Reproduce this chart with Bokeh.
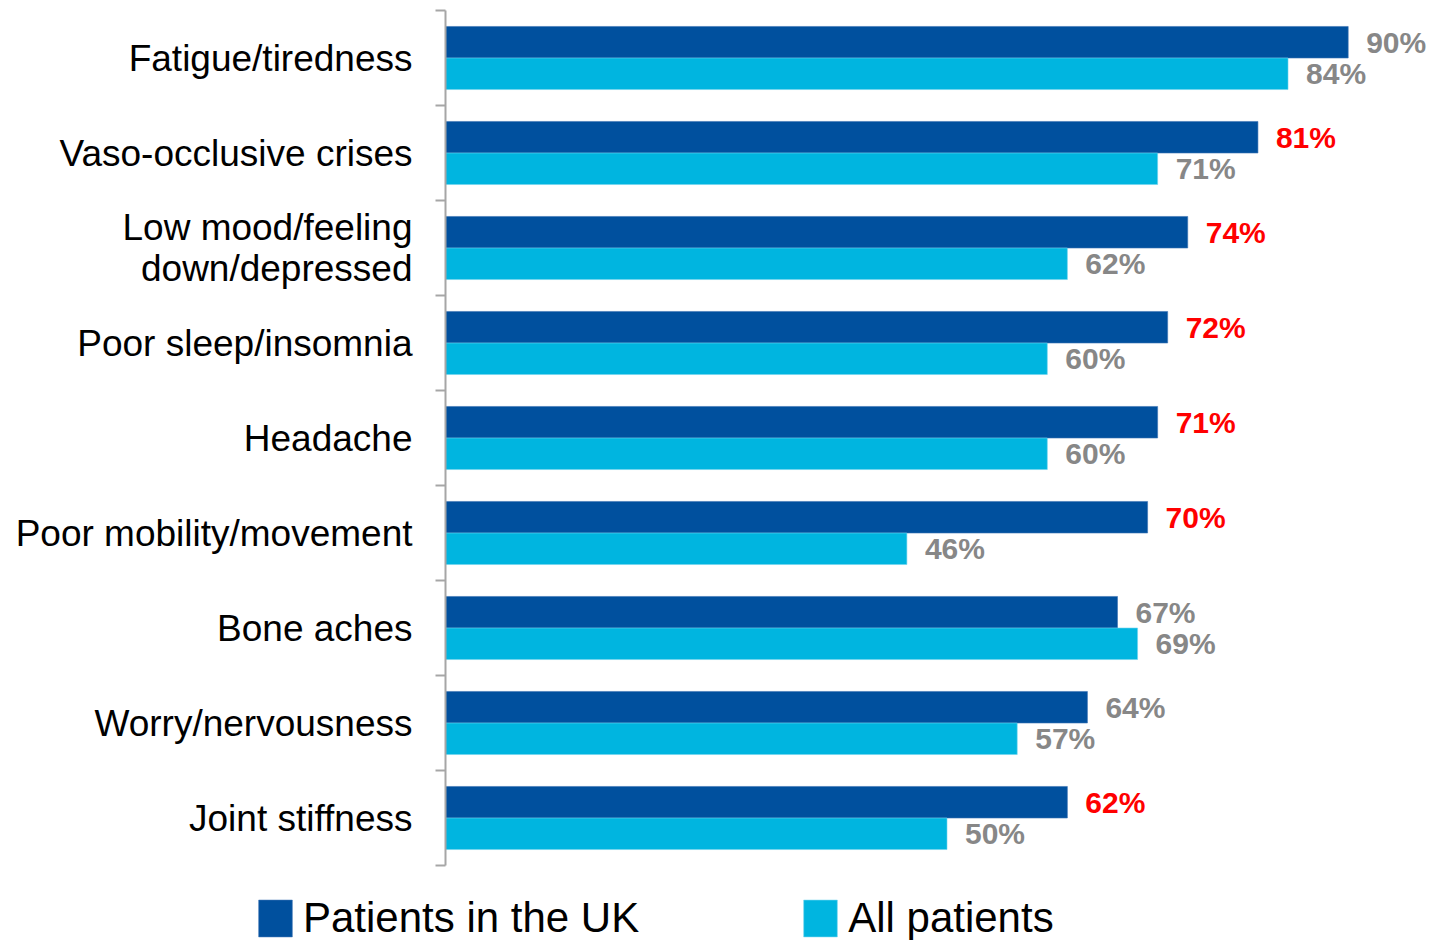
from bokeh.plotting import figure
from bokeh.models import ColumnDataSource, Legend, LegendItem, Range1d, LabelSet
from bokeh.core.properties import value
from bokeh.embed import file_html
from bokeh.resources import INLINE

categories = ["Fatigue/tiredness", "Vaso-occlusive crises", "Low mood/feeling\ndown/depressed",
              "Poor sleep/insomnia", "Headache", "Poor mobility/movement", "Bone aches",
              "Worry/nervousness", "Joint stiffness"]
uk_values = [90, 81, 74, 72, 71, 70, 67, 64, 62]
all_values = [84, 71, 62, 60, 60, 46, 69, 57, 50]
uk_highlight = [False, True, True, True, True, True, False, False, True]
series_names = ["Patients in the UK", "All patients"]

DARK = "#00509E"
LIGHT = "#00B5E0"
GRAY = "#878787"
RED = "#FF0000"
AXIS = "#A6A6A6"
FONT = "Liberation Sans"

# layout constants (pixels)
W, H = 1431, 940
AXIS_X = 445          # pixel position of the value axis origin
TOP, BOTTOM = 10, 75  # space above / below the category band
PX_PER_PCT = 10.03

n = len(categories)
band = (H - TOP - BOTTOM) / n
centers = [n - i - 0.5 for i in range(n)]
off = 0.166
bh = 0.332

src_uk = ColumnDataSource(dict(
    y=[c + off for c in centers], v=uk_values,
    txt=[f"{v}%" for v in uk_values],
    col=[RED if h else GRAY for h in uk_highlight]))
src_all = ColumnDataSource(dict(
    y=[c - off for c in centers], v=all_values,
    txt=[f"{v}%" for v in all_values],
    col=[GRAY] * n))
src_cat = ColumnDataSource(dict(y=centers, label=categories))

x_range = Range1d(-AXIS_X / PX_PER_PCT, (W - AXIS_X) / PX_PER_PCT)
y_range = Range1d(-BOTTOM / band, n + TOP / band)

p = figure(width=W, height=H, x_range=x_range, y_range=y_range,
           output_backend="svg", toolbar_location=None,
           x_axis_location=None, y_axis_location=None,
           min_border=0, min_border_left=0, min_border_right=0,
           min_border_top=0, min_border_bottom=0)
p.outline_line_color = None
p.grid.visible = False
p.background_fill_color = "white"
p.border_fill_color = "white"

r_uk = p.hbar(y="y", right="v", left=0, height=bh, source=src_uk, fill_color=DARK,
              line_color="#3a72b3", line_width=0.6)
r_all = p.hbar(y="y", right="v", left=0, height=bh, source=src_all, fill_color=LIGHT,
               line_color="#6fd3ef", line_width=0.6)

for s in (src_uk, src_all):
    p.add_layout(LabelSet(x="v", y="y", text="txt", source=s, x_offset=18,
                          text_baseline="middle", text_align="left",
                          text_font=value(FONT), text_font_size="30px", text_font_style="bold",
                          text_color="col"))

# category axis: line, boundary ticks, labels
bounds = list(range(n + 1))
p.segment(x0=0, y0=0, x1=0, y1=n, line_color=AXIS, line_width=2)
p.segment(x0=[-10 / PX_PER_PCT] * len(bounds), y0=bounds, x1=[0] * len(bounds), y1=bounds,
          line_color=AXIS, line_width=2)
p.text(x=-33 / PX_PER_PCT, y="y", text="label", source=src_cat,
       text_align="right", text_baseline="middle", text_font=value(FONT),
       text_font_size="37px", text_line_height=1.0, text_color="black")

legend = Legend(items=[LegendItem(label=series_names[0], renderers=[r_uk]),
                       LegendItem(label=series_names[1], renderers=[r_all])],
                orientation="horizontal", location=(254, -2),
                glyph_width=42, glyph_height=46, label_height=40,
                label_text_font=FONT, label_text_font_size="42px",
                label_text_color="black",
                label_standoff=7, spacing=160, padding=0, margin=0,
                border_line_color=None, background_fill_alpha=0)
p.add_layout(legend)

open("out.html", "w").write(file_html(p, INLINE))
